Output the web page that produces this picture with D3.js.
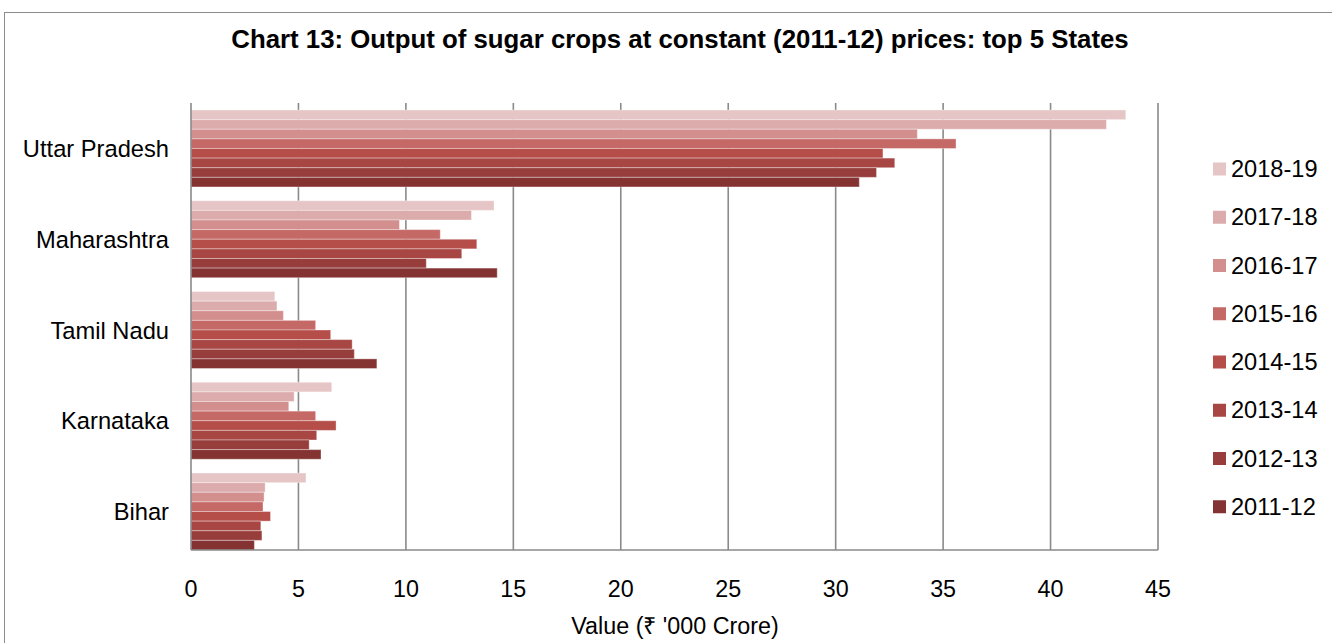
<!DOCTYPE html>
<html>
<head>
<meta charset="utf-8">
<script src="https://cdn.jsdelivr.net/npm/d3@7"></script>
<style>
  body { margin: 0; background: #fff; }
  svg { font-family: "Liberation Sans", Arial, sans-serif; }
</style>
</head>
<body>
<svg id="chart" width="1332" height="643"></svg>
<script>
// data
var states = ["Uttar Pradesh", "Maharashtra", "Tamil Nadu", "Karnataka", "Bihar"];
var years = ["2018-19", "2017-18", "2016-17", "2015-16", "2014-15", "2013-14", "2012-13", "2011-12"];
var colors = ["#e6c5c6", "#dcacad", "#d28f8e", "#c56967", "#b54d49", "#a84644", "#973e3c", "#843332"];
var v2018 = [43.5, 14.1, 3.9, 6.55, 5.35];
var v2017 = [42.6, 13.05, 4.0, 4.8, 3.45];
var v2016 = [33.8, 9.7, 4.3, 4.55, 3.4];
var v2015 = [35.6, 11.6, 5.8, 5.8, 3.35];
var v2014 = [32.2, 13.3, 6.5, 6.75, 3.7];
var v2013 = [32.75, 12.6, 7.5, 5.85, 3.25];
var v2012 = [31.9, 10.95, 7.6, 5.5, 3.3];
var v2011 = [31.1, 14.25, 8.65, 6.05, 2.95];
var series = [v2018, v2017, v2016, v2015, v2014, v2013, v2012, v2011];
var ticks = [0, 5, 10, 15, 20, 25, 30, 35, 40, 45];

var svg = d3.select("#chart");
var pLeft = 191, pRight = 1158, pTop = 103, pBottom = 550;

// outer frame
svg.append("rect")
    .attr("x", 4.5).attr("y", 12.5)
    .attr("width", 1340).attr("height", 640)
    .attr("fill", "none").attr("stroke", "#8c8c8c").attr("stroke-width", 1);

svg.append("text")
    .attr("x", 680).attr("y", 48)
    .attr("text-anchor", "middle")
    .attr("font-size", 25.8).attr("font-weight", "bold")
    .text("Chart 13: Output of sugar crops at constant (2011-12) prices: top 5 States");

var x = d3.scaleLinear().domain([0, 45]).range([pLeft, pRight]);
var y = d3.scaleBand().domain(states).range([110, pBottom]).paddingInner(0.152).paddingOuter(0);
var yy = d3.scaleBand().domain(years).range([0, y.bandwidth()]);

// grid
svg.append("g").selectAll("line")
    .data(ticks.slice(1))
    .enter().append("line")
    .attr("x1", function(d) { return x(d); })
    .attr("x2", function(d) { return x(d); })
    .attr("y1", pTop).attr("y2", pBottom)
    .attr("stroke", "#8a8a8a").attr("stroke-width", 1.6);

// bars
var g = svg.append("g");
series.forEach(function(vals, i) {
  g.selectAll(".b" + i)
    .data(vals)
    .enter().append("rect")
      .attr("class", "b" + i)
      .attr("x", x(0))
      .attr("y", function(d, j) { return y(states[j]) + yy(years[i]); })
      .attr("width", function(d) { return x(d) - x(0); })
      .attr("height", yy.bandwidth())
      .attr("fill", colors[i])
      .attr("stroke", "#ffffff").attr("stroke-opacity", 0.35).attr("stroke-width", 1);
});

// axis lines
svg.append("line")
    .attr("x1", pLeft).attr("x2", pLeft).attr("y1", pTop).attr("y2", pBottom)
    .attr("stroke", "#8a8a8a").attr("stroke-width", 1.6);
svg.append("line")
    .attr("x1", pLeft).attr("x2", pRight).attr("y1", pBottom).attr("y2", pBottom)
    .attr("stroke", "#8a8a8a").attr("stroke-width", 1.6);

// x tick labels
svg.append("g").selectAll("text")
    .data(ticks)
    .enter().append("text")
    .attr("x", function(d) { return x(d); })
    .attr("y", 597)
    .attr("text-anchor", "middle")
    .attr("font-size", 23.3)
    .text(function(d) { return d; });

svg.append("text")
    .attr("x", 675).attr("y", 634)
    .attr("text-anchor", "middle")
    .attr("font-size", 23.3)
    .text("Value (₹ '000 Crore)");

// category labels
svg.append("g").selectAll("text")
    .data(states)
    .enter().append("text")
    .attr("x", 169)
    .attr("y", function(d) { return y(d) + y.bandwidth() / 2 + 8.5; })
    .attr("text-anchor", "end")
    .attr("font-size", 23.7)
    .text(function(d) { return d; });

// legend
var lg = svg.append("g").selectAll("g")
    .data(years)
    .enter().append("g")
    .attr("transform", function(d, i) { return "translate(1213," + (169 + i * 48.25) + ")"; });
lg.append("rect")
    .attr("x", 0).attr("y", -6.5).attr("width", 13).attr("height", 13)
    .attr("fill", function(d, i) { return colors[i]; });
lg.append("text")
    .attr("x", 18).attr("y", 8)
    .attr("font-size", 23.6)
    .text(function(d) { return d; });
</script>
</body>
</html>
